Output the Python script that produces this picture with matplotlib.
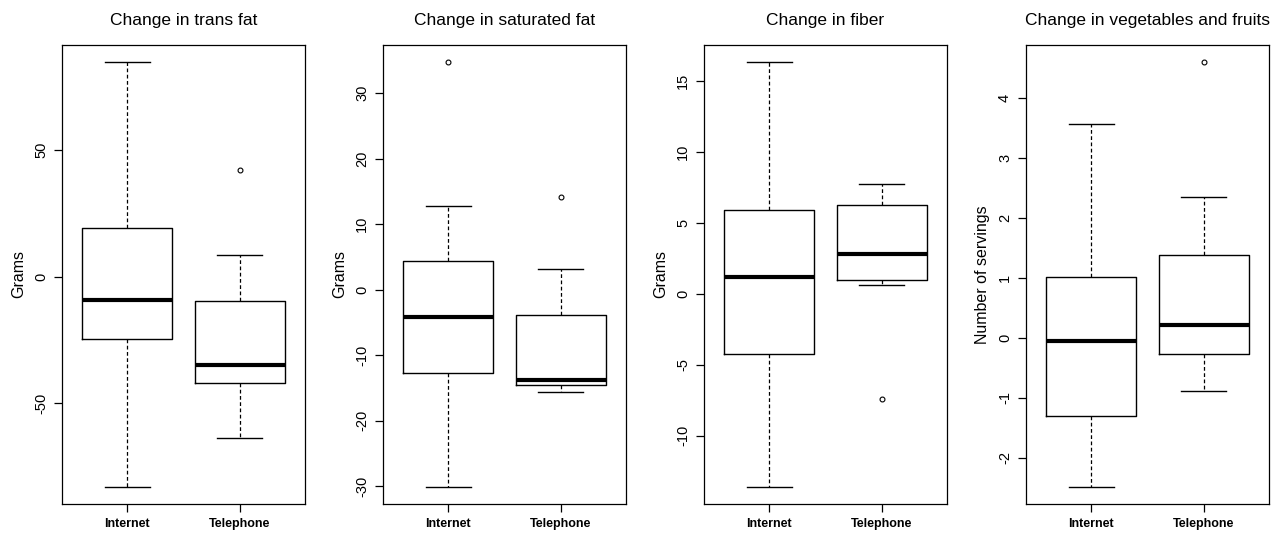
import matplotlib
matplotlib.use("Agg")
import matplotlib.pyplot as plt

plt.rcParams['font.family'] = ['Liberation Sans', 'DejaVu Sans']

groups = ["Internet", "Telephone"]
titles = ["Change in trans fat", "Change in saturated fat",
          "Change in fiber", "Change in vegetables and fruits"]
ylabels = ["Grams", "Grams", "Grams", "Number of servings"]

# per panel, per group: whisker low, q1, median, q3, whisker high
trans_fat = [[-83.2, -24.6, -9.3, 19.4, 85.1],
             [-64.0, -41.9, -34.8, -9.6, 8.6]]
sat_fat = [[-30.1, -12.7, -4.1, 4.3, 12.8],
           [-15.6, -14.6, -13.75, -3.8, 3.2]]
fiber = [[-13.6, -4.26, 1.17, 5.9, 16.35],
         [0.65, 1.0, 2.8, 6.27, 7.73]]
veg_fruit = [[-2.49, -1.31, -0.06, 1.01, 3.56],
             [-0.89, -0.27, 0.21, 1.375, 2.34]]

trans_fat_out = [[], [42.2]]
sat_fat_out = [[34.8], [14.2]]
fiber_out = [[], [-7.44]]
veg_fruit_out = [[], [4.60]]

yticks = [[-50, 0, 50], [-30, -20, -10, 0, 10, 20, 30],
          [-10, -5, 0, 5, 10, 15], [-2, -1, 0, 1, 2, 3, 4]]

panels = [(trans_fat, trans_fat_out), (sat_fat, sat_fat_out),
          (fiber, fiber_out), (veg_fruit, veg_fruit_out)]

fig = plt.figure(figsize=(12.78, 5.33), dpi=100)
W, H = 1278, 533
lefts = [62, 383, 704, 1026]
aw = 243
top, bottom = 44.5, 504

for i, (stats_src, outs) in enumerate(panels):
    ax = fig.add_axes([lefts[i] / W, 1 - bottom / H, aw / W, (bottom - top) / H])
    stats = []
    for g, s, o in zip(groups, stats_src, outs):
        stats.append(dict(label=g, whislo=s[0], q1=s[1], med=s[2],
                          q3=s[3], whishi=s[4], fliers=o))
    ax.bxp(stats, positions=[1, 2], widths=0.8, showfliers=True,
           boxprops=dict(color='black', linewidth=1.0),
           medianprops=dict(color='black', linewidth=3.0, solid_capstyle='butt'),
           whiskerprops=dict(color='black', linewidth=0.9, linestyle=(0, (3, 2))),
           capprops=dict(color='black', linewidth=1.0),
           capwidths=0.4,
           flierprops=dict(marker='o', markersize=3.5, markerfacecolor='none',
                           markeredgecolor='black', markeredgewidth=0.8))
    # R style y range: data range padded by 4%
    allv = [v for s in stats_src for v in (s[0], s[4])] + [v for o in outs for v in o]
    lo, hi = min(allv), max(allv)
    r = hi - lo
    ax.set_ylim(lo - 0.04 * r, hi + 0.04 * r)
    ax.set_xlim(0.42, 2.58)
    ax.set_yticks(yticks[i])
    ax.set_yticklabels([str(t) for t in yticks[i]], rotation=90, va='center', fontsize=10.5)
    ax.set_xticks([1, 2])
    ax.set_xticklabels(groups, fontsize=9, fontweight='bold')
    ax.tick_params(axis='y', direction='out', length=6, width=0.9, pad=4)
    ax.tick_params(axis='x', direction='out', length=6, width=0.9, pad=4)
    ax.set_ylabel(ylabels[i], fontsize=11.5, labelpad=6)
    ax.set_title(titles[i], fontsize=12.5, pad=14)
    for sp in ax.spines.values():
        sp.set_linewidth(0.9)

fig.savefig("out.png", dpi=100, facecolor='white')
